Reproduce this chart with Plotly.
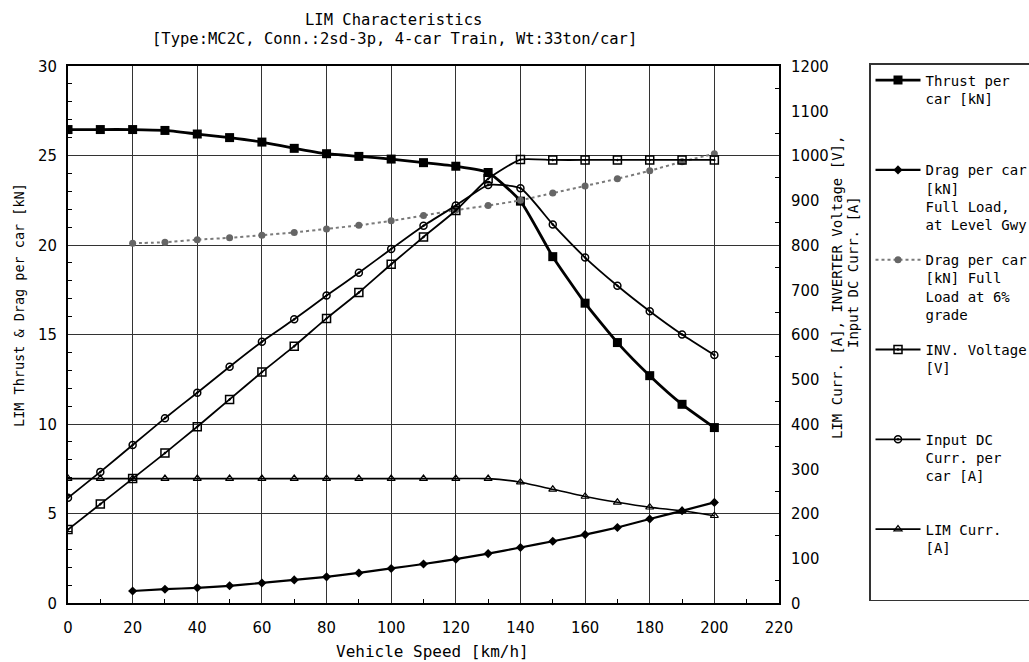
import plotly.graph_objects as go

speed = [0, 10, 20, 30, 40, 50, 60, 70, 80, 90, 100, 110, 120, 130, 140, 150, 160, 170, 180, 190, 200]
speed_drag = [20, 30, 40, 50, 60, 70, 80, 90, 100, 110, 120, 130, 140, 150, 160, 170, 180, 190, 200]

thrust_kn = [26.45, 26.45, 26.45, 26.4, 26.2, 26.0, 25.75, 25.4, 25.1, 24.95, 24.8, 24.6, 24.4, 24.05,
             22.45, 19.35, 16.75, 14.55, 12.7, 11.1, 9.8]
drag_level_kn = [0.67, 0.77, 0.85, 0.96, 1.12, 1.29, 1.46, 1.68, 1.93, 2.18, 2.45, 2.76, 3.1, 3.45,
                 3.82, 4.22, 4.69, 5.15, 5.62]
drag_6pct_kn = [20.1, 20.15, 20.3, 20.4, 20.55, 20.7, 20.9, 21.1, 21.35, 21.65, 21.95, 22.2, 22.5,
                22.9, 23.3, 23.7, 24.15, 24.65, 25.1]
inv_voltage_v = [164, 221, 278, 335, 394, 455, 516, 574, 636, 694, 757, 818, 877, 948, 991, 990, 990,
                 990, 990, 990, 990]
input_dc_a = [235, 293, 353, 413, 470, 528, 584, 634, 687, 738, 791, 843, 888, 934, 927, 846, 772,
              709, 652, 600, 554]
lim_curr_a = [278, 278, 278, 278, 278, 278, 278, 278, 278, 278, 278, 278, 278, 278, 270, 254, 238,
              225, 214, 206, 195]

names = [
    "Thrust per<br>car [kN]<br> <br> ",
    "Drag per car<br>[kN]<br>Full Load,<br>at Level Gwy",
    "Drag per car<br>[kN] Full<br>Load at 6%<br>grade",
    "INV. Voltage<br>[V]<br> <br> ",
    "Input DC<br>Curr. per<br>car [A]<br> ",
    "LIM Curr.<br>[A]<br> <br> ",
]

FONT = "DejaVu Sans Mono, Liberation Mono, monospace"
TICKFONT = "DejaVu Sans Condensed, Liberation Sans Narrow, DejaVu Sans, sans-serif"

fig = go.Figure()
fig.add_trace(go.Scatter(x=speed, y=thrust_kn, name=names[0], legendgroup="a", mode="lines+markers",
                         line=dict(color="black", width=2.8, shape="spline", smoothing=0.5),
                         marker=dict(symbol="square", size=9, color="black")))
fig.add_trace(go.Scatter(x=speed_drag, y=drag_level_kn, name=names[1], legendgroup="b", mode="lines+markers",
                         line=dict(color="black", width=2.2, shape="spline", smoothing=0.5),
                         marker=dict(symbol="diamond", size=7, color="black")))
fig.add_trace(go.Scatter(x=speed_drag, y=drag_6pct_kn, name=names[2], legendgroup="c", mode="lines+markers",
                         line=dict(color="#7a7a7a", width=2, dash="dot", shape="spline", smoothing=0.5),
                         marker=dict(symbol="circle", size=7, color="#666666")))
fig.add_trace(go.Scatter(x=speed, y=inv_voltage_v, name=names[3], legendgroup="d", yaxis="y2",
                         mode="lines+markers",
                         line=dict(color="black", width=1.8, shape="spline", smoothing=0.5),
                         marker=dict(symbol="square-open-dot", size=8, color="black", line=dict(width=1.5))))
fig.add_trace(go.Scatter(x=speed, y=input_dc_a, name=names[4], legendgroup="e", yaxis="y2",
                         mode="lines+markers",
                         line=dict(color="black", width=1.8, shape="spline", smoothing=0.5),
                         marker=dict(symbol="circle-open-dot", size=7, color="black", line=dict(width=1.5))))
fig.add_trace(go.Scatter(x=speed, y=lim_curr_a, name=names[5], legendgroup="f", yaxis="y2",
                         mode="lines+markers",
                         line=dict(color="black", width=1.6, shape="spline", smoothing=0.5),
                         marker=dict(symbol="triangle-up-open", size=7, color="black", line=dict(width=1.2))))

W, H = 1029, 662
L, R, T, B = 68, 779, 66, 603
xdom_end = (R - L) / (W - L)

def px_to_paper_x(px):
    return (px - L) / (W - L)

def px_to_paper_y(py):
    return (B - py) / (B - T)

fig.update_layout(
    width=W, height=H,
    margin=dict(l=L, r=0, t=T, b=H - B, pad=0, autoexpand=False),
    paper_bgcolor="white", plot_bgcolor="white",
    font=dict(family=FONT, color="black", size=13),
    xaxis=dict(domain=[0, xdom_end], range=[0, 220], dtick=20, tick0=0,
               showgrid=True, gridcolor="#333333", gridwidth=1,
               showline=True, linecolor="black", linewidth=1.5, mirror=True,
               ticks="", zeroline=False, ticklabelstandoff=8,
               minor=dict(dtick=10, ticks="inside", ticklen=4, tickcolor="black", showgrid=False),
               tickfont=dict(family=TICKFONT, size=16.5, color="black")),
    yaxis=dict(range=[0, 30], dtick=5, tick0=0,
               showgrid=True, gridcolor="#333333", gridwidth=1,
               showline=True, linecolor="black", linewidth=1.5, mirror=True,
               ticks="", zeroline=False, ticklabelstandoff=6,
               minor=dict(dtick=1, ticks="inside", ticklen=4, tickcolor="black", showgrid=False),
               tickfont=dict(family=TICKFONT, size=16.5, color="black")),
    yaxis2=dict(range=[0, 1200], dtick=100, tick0=0, overlaying="y", side="right", anchor="x",
                showgrid=False, showline=True, linecolor="black", linewidth=1.5,
                ticks="", zeroline=False, ticklabelstandoff=7,
                minor=dict(dtick=50, ticks="inside", ticklen=4, tickcolor="black", showgrid=False),
                tickfont=dict(family=TICKFONT, size=16.5, color="black")),
    legend=dict(x=px_to_paper_x(869), y=px_to_paper_y(63), xanchor="left", yanchor="top",
                bordercolor="#333333", borderwidth=1.5, bgcolor="white",
                font=dict(family=FONT, size=14, color="black"),
                valign="top", tracegroupgap=14, itemwidth=45, traceorder="grouped",
                maxheight=640),
    showlegend=True,
)

annotations = [
    dict(text="LIM Characteristics", x=px_to_paper_x(393), y=px_to_paper_y(20), size=15.5),
    dict(text="[Type:MC2C, Conn.:2sd-3p, 4-car Train, Wt:33ton/car]", x=px_to_paper_x(394),
         y=px_to_paper_y(39), size=15.5),
    dict(text="Vehicle Speed [km/h]", x=px_to_paper_x(432), y=px_to_paper_y(651), size=16),
    dict(text="LIM Thrust & Drag per car [kN]", x=px_to_paper_x(19), y=px_to_paper_y(305),
         textangle=-90, size=13.5),
    dict(text="LIM Curr. [A], INVERTER Voltage [V],", x=px_to_paper_x(837), y=px_to_paper_y(288),
         textangle=-90, size=14),
    dict(text="Input DC Curr. [A]", x=px_to_paper_x(853), y=px_to_paper_y(272),
         textangle=-90, size=14),
]
for a in annotations:
    size = a.pop("size")
    fig.add_annotation(xref="paper", yref="paper", showarrow=False,
                       font=dict(family=FONT, size=size, color="black"),
                       xanchor="center", yanchor="middle", **a)

fig.write_html("out.html", config={"displayModeBar": False},
               post_script="document.body.style.margin='0';document.body.style.overflow='hidden';")
